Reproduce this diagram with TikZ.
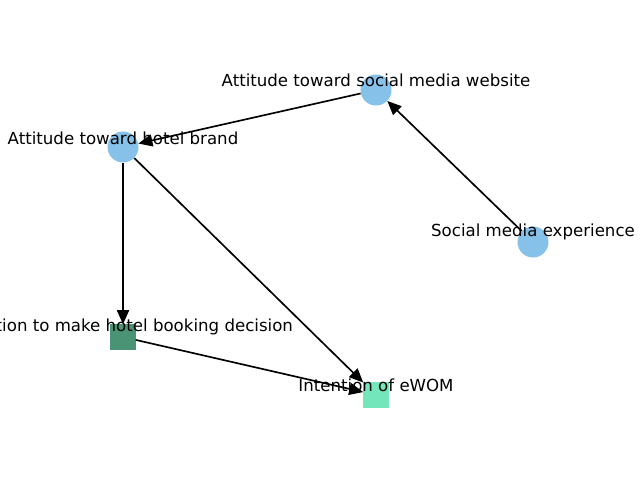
\documentclass[tikz,border=0pt]{standalone}
\usepackage{fontspec}
\setmainfont{DejaVu Sans}
\usetikzlibrary{arrows.meta}
\definecolor{nodeblue}{RGB}{133,193,233}
\definecolor{darkgreen}{RGB}{74,148,117}
\definecolor{mintgreen}{RGB}{115,230,188}
\tikzset{
	factor/.style={circle, fill=nodeblue, minimum size=0.31in, inner sep=0pt},
	outcome/.style={rectangle, minimum size=0.25in, inner sep=0pt},
	caption/.style={black, font=\fontsize{12pt}{14pt}\selectfont, inner sep=0pt},
	link/.style={draw=black, line width=1.2pt, -{Triangle[length=0.14in, width=0.12in]}}
}
\begin{document}
\begin{tikzpicture}[x=0.01in, y=-0.01in]
		\useasboundingbox (0,0) rectangle (640,480);
		\clip (0,0) rectangle (640,480);
		\node[factor] (sme) at (533,242) {};
		\node[factor] (atsmw) at (376,90) {};
		\node[factor] (athb) at (123,147) {};
		\node[outcome, fill=darkgreen] (ihbd) at (123,337) {};
		\node[outcome, fill=mintgreen] (ewom) at (376,395) {};
		\draw[link] (sme) -- (atsmw);
		\draw[link] (atsmw) -- (athb);
		\draw[link] (athb) -- (ihbd);
		\draw[link] (athb) -- (ewom);
		\draw[link] (ihbd) -- (ewom);
		\node[caption] (smeText) at (533,232) {Social media experience};
		\node[caption] (atsmwText) at (376,80) {Attitude toward social media website};
		\node[caption] (athbText) at (123,138) {Attitude toward hotel brand};
		\node[caption] (ihbdText) at (123,327) {Intention to make hotel booking decision};
		\node[caption] (ewomText) at (376,385) {Intention of eWOM};
	\end{tikzpicture}
\end{document}
